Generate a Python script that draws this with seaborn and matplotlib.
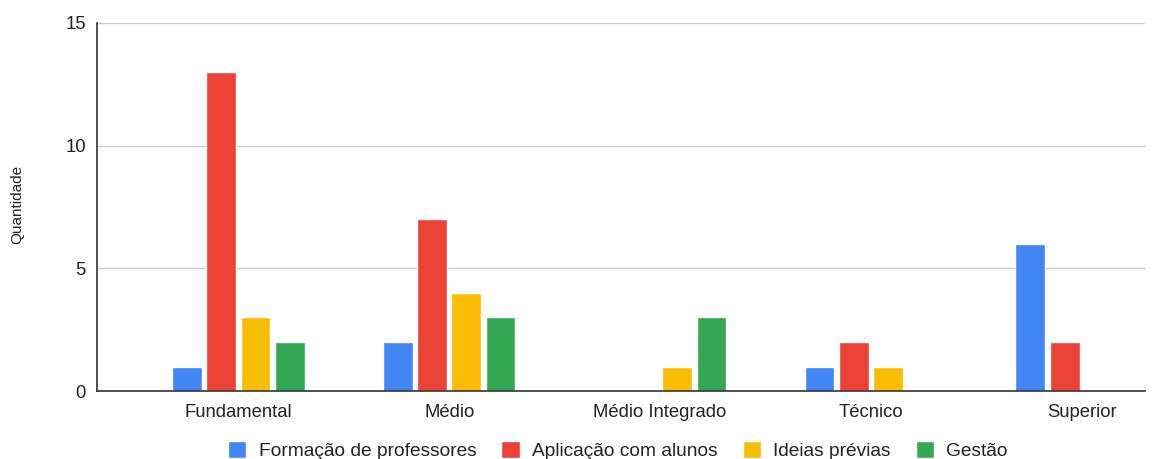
import matplotlib
matplotlib.use("Agg")
import matplotlib.pyplot as plt
import seaborn as sns
import pandas as pd

categories = ["Fundamental", "Médio", "Médio Integrado", "Técnico", "Superior"]
series_names = ["Formação de professores", "Aplicação com alunos", "Ideias prévias", "Gestão"]
formacao = [1, 2, 0, 1, 6]
aplicacao = [13, 7, 0, 2, 2]
ideias = [3, 4, 1, 1, 0]
gestao = [2, 3, 3, 0, 0]
y_ticks = [0, 5, 10, 15]
colors = ["#4285F4", "#EA4335", "#FBBC04", "#34A853"]

rows = []
for name, vals in zip(series_names, [formacao, aplicacao, ideias, gestao]):
    for cat, v in zip(categories, vals):
        rows.append({"Nível": cat, "Tipo": name, "Quantidade": v})
df = pd.DataFrame(rows)

sns.set_theme(style="white")
plt.rcParams["font.family"] = ["Liberation Sans", "DejaVu Sans"]

fig = plt.figure(figsize=(11.58, 4.59), dpi=100)
ax = fig.add_axes([0.0838, 0.148, 0.905, 0.802])

sns.barplot(data=df, x="Nível", y="Quantidade", hue="Tipo", order=categories,
            hue_order=series_names, palette=colors, width=0.65, gap=0.13,
            saturation=1, ax=ax, legend=True)

ax.set_xlim(-0.67, 4.30)
ax.set_ylim(0, 15)
ax.set_yticks(y_ticks)
ax.yaxis.grid(True, color="#cccccc", linewidth=1)
ax.set_axisbelow(True)
for side in ["top", "right"]:
    ax.spines[side].set_visible(False)
for side in ["left", "bottom"]:
    ax.spines[side].set_color("#333333")
    ax.spines[side].set_linewidth(1.2)
ax.tick_params(axis="both", length=0, labelsize=13.3, colors="#222222")
ax.tick_params(axis="y", pad=8)
ax.tick_params(axis="x", pad=9)
ax.set_xlabel("")
ax.set_ylabel("")
fig.text(17 / 1158, 1 - 204 / 459, "Quantidade", rotation=90, ha="center",
         va="center", fontsize=11, color="#222222")

handles, labels = ax.get_legend_handles_labels()
ax.legend(handles, labels, loc="center", bbox_to_anchor=(0.497, -0.162),
          ncol=4, frameon=False, fontsize=13.8, handlelength=0.95, handleheight=0.95,
          handletextpad=0.65, columnspacing=1.3, labelcolor="#222222",
          borderaxespad=0)

fig.savefig("out.png", dpi=100)
